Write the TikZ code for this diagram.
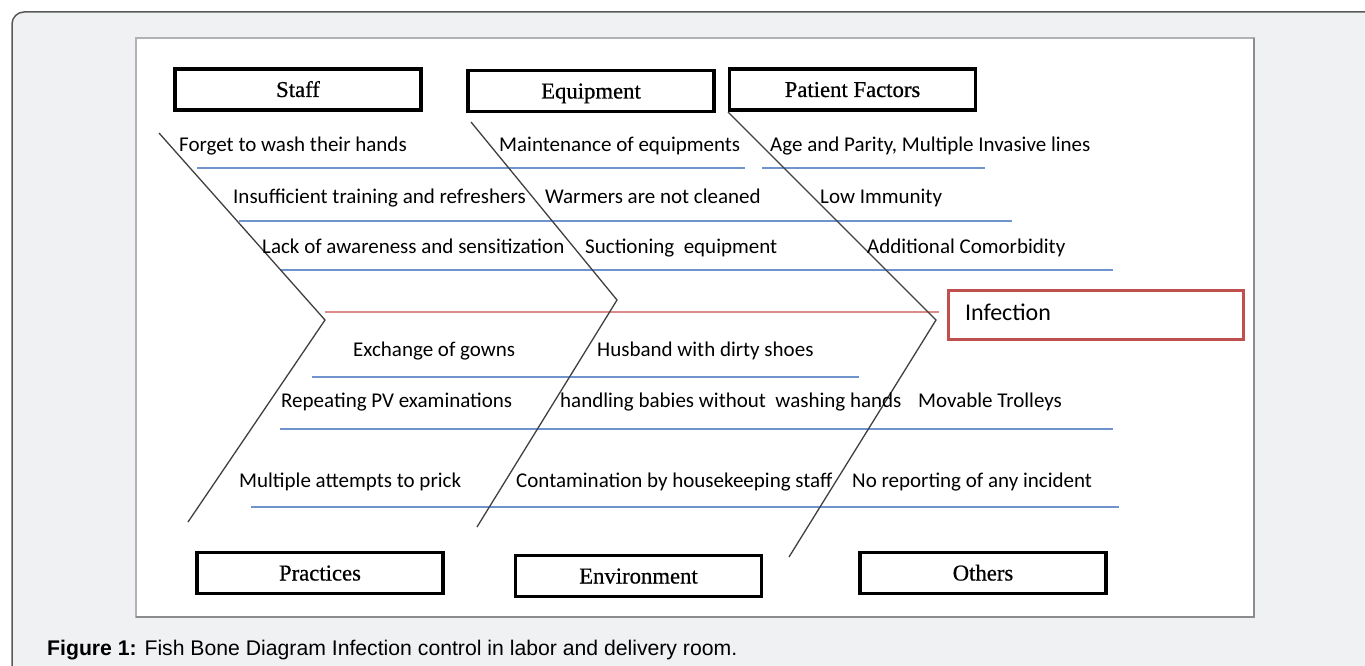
\documentclass[tikz,border=0pt]{standalone}
\usepackage{fontspec}
\setmainfont{Carlito}
\newfontfamily\boxfont[FakeBold=0.6]{Liberation Serif}
\newfontfamily\capfont{Liberation Sans}
\definecolor{framegray}{HTML}{F0F1F3}
\definecolor{ribblue}{HTML}{6F94CD}
\definecolor{spinered}{HTML}{DB8C8A}
\definecolor{effectred}{HTML}{C0504D}
\begin{document}
\begin{tikzpicture}[x=1pt,y=-1pt,
    catbox/.style={draw, line width=3.5pt, minimum width=246pt, minimum height=41pt,
      text height=17pt, text depth=2pt, font=\boxfont\fontsize{22.7}{26}\selectfont},
    cause/.style={anchor=base west, inner sep=0pt, font=\fontsize{21}{25}\selectfont},
    effectbox/.style={draw=effectred, line width=3pt, minimum height=49pt, text width=262pt,
      inner xsep=16.5pt, text height=15pt, text depth=5pt, font=\fontsize{24}{28}\selectfont},
    rib/.style={ribblue, line width=1.6pt},
    bone/.style={black!75, line width=1.3pt}]
    \useasboundingbox (0,0) rectangle (1365,666);
    \filldraw[fill=framegray, draw=black!65, line width=1.5pt, rounded corners=12pt] (12,12) rectangle (1400,720);
    \filldraw[fill=white, draw=black!30, line width=1.2pt] (136,38) rectangle (1254,617);
    \draw[black!45, line width=1.8pt] (1254,38) -- (1254,617) -- (136,617);

    \node[catbox] (staff) at (298,89.5) {Staff};
    \node[catbox] (equip) at (591,91) {Equipment};
    \node[catbox] (patient) at (852.5,89.5) {Patient Factors};
    \node[catbox] (practices) at (320,573) {Practices};
    \node[catbox] (environment) at (638.5,576) {Environment};
    \node[catbox] (others) at (983,573) {Others};
    \node[effectbox] (infection) at (1096,315) {Infection};

    \foreach \a/\b/\y in {197/745/168, 762/985/168, 239/1012/221, 280/1113/270,
                          312/859/377, 280/1113/429, 251/1119/507}
      \draw[rib] (\a,\y) -- (\b,\y);

    \coordinate (tail) at (325,312);
    \coordinate (head) at (939,312);
    \draw[spinered, line width=1.6pt] (tail) -- (head);

    \coordinate (staffbone) at (159,133);
    \coordinate (staffjoint) at (325,320);
    \coordinate (practbone) at (188,522);
    \coordinate (equipbone) at (471,122);
    \coordinate (equipjoint) at (617,300);
    \coordinate (envbone) at (477,527);
    \coordinate (patbone) at (728,112);
    \coordinate (patjoint) at (936,320);
    \coordinate (othbone) at (789,557);
    \draw[bone] (staffbone) -- (staffjoint) -- (practbone);
    \draw[bone] (equipbone) -- (equipjoint) -- (envbone);
    \draw[bone] (patbone) -- (patjoint) -- (othbone);

    \node[cause] (forget) at (179,152) {Forget to wash their hands};
    \node[cause] (maintain) at (499,152) {Maintenance of equipments};
    \node[cause] (age) at (770,152) {Age and Parity, Multiple Invasive lines};
    \node[cause] (training) at (233,203) {Insufficient training and refreshers};
    \node[cause] (warmers) at (545,203) {Warmers are not cleaned};
    \node[cause] (immunity) at (820,203) {Low Immunity};
    \node[cause] (awareness) at (262,253) {Lack of awareness and sensitization};
    \node[cause] (suction) at (585,253) {Suctioning\ \ equipment};
    \node[cause] (comorbid) at (867,253) {Additional Comorbidity};
    \node[cause] (gowns) at (353,356) {Exchange of gowns};
    \node[cause] (husband) at (597,356) {Husband with dirty shoes};
    \node[cause] (pvexam) at (281,407) {Repeating PV examinations};
    \node[cause] (babies) at (560,407) {handling babies without\ \ washing hands};
    \node[cause] (trolleys) at (918,407) {Movable Trolleys};
    \node[cause] (prick) at (239,487) {Multiple attempts to prick};
    \node[cause] (housekeep) at (516,487) {Contamination by housekeeping staff};
    \node[cause] (incident) at (852,487) {No reporting of any incident};

    \node[anchor=base west, inner sep=0pt, font=\capfont\fontsize{21.2}{24}\selectfont] (caption) at (47,655)
      {\textbf{Figure 1:} Fish Bone Diagram Infection control in labor and delivery room.};
\end{tikzpicture}
\end{document}
